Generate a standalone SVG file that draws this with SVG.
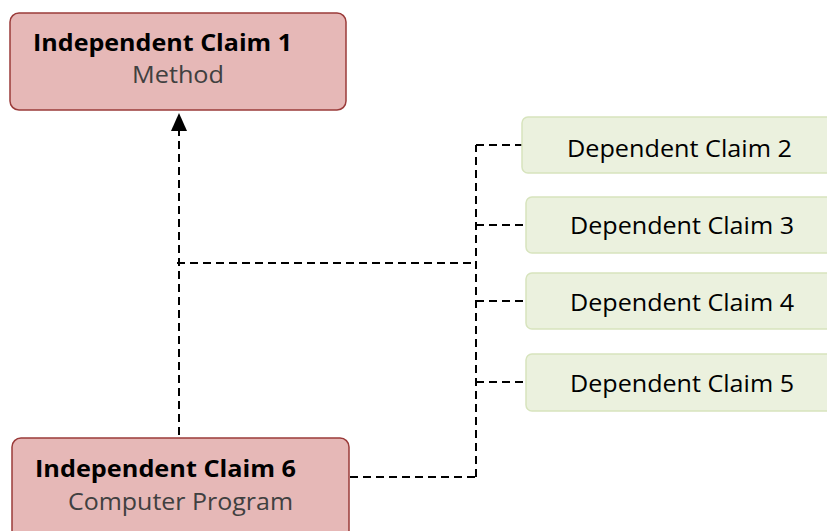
<svg xmlns="http://www.w3.org/2000/svg" width="827" height="531" viewBox="0 0 827 531">
<defs>
<style>
.ind{fill:#e6b8b7;stroke:#9b3b3a;stroke-width:1.5}
.dep{fill:#ebf1de;stroke:#d7e4bd;stroke-width:1.5}
.t1{font-family:"Open Sans","Liberation Sans",sans-serif;font-weight:bold;font-size:24px;fill:#000}
.t2{font-family:"Open Sans","Liberation Sans",sans-serif;font-size:24px;fill:#404040}
.td{font-family:"Open Sans","Liberation Sans",sans-serif;font-size:23px;fill:#000}
.c{fill:none;stroke:#000;stroke-width:2;stroke-dasharray:8 5}
</style>
</defs>
<g id="connectors">
<path class="c" d="M179,435 V128"/>
<path d="M179,113 L171,131 L187,131 z" fill="#000"/>
<path class="c" d="M177,263 H472"/>
<path class="c" d="M476,477 V145"/>
<path class="c" d="M350,477 H476"/>
<path class="c" d="M476,145 H527"/>
<path class="c" d="M476,225 H527"/>
<path class="c" d="M476,301 H527"/>
<path class="c" d="M476,382 H527"/>
</g>
<g id="claim1">
<rect class="ind" x="10" y="13" width="336" height="97" rx="9"/>
<text class="t1" x="33" y="51" textLength="259" lengthAdjust="spacingAndGlyphs">Independent Claim 1</text>
<text class="t2" x="132" y="83" textLength="92" lengthAdjust="spacingAndGlyphs">Method</text>
</g>
<g id="claim6">
<rect class="ind" x="12" y="438" width="337" height="110" rx="9"/>
<text class="t1" x="35" y="477" textLength="261" lengthAdjust="spacingAndGlyphs">Independent Claim 6</text>
<text class="t2" x="68" y="510" textLength="225" lengthAdjust="spacingAndGlyphs">Computer Program</text>
</g>
<g id="claim2">
<rect class="dep" x="522" y="117" width="320" height="56" rx="6"/>
<text class="td" x="567" y="157" textLength="225" lengthAdjust="spacingAndGlyphs">Dependent Claim 2</text>
</g>
<g id="claim3">
<rect class="dep" x="526" y="197" width="320" height="56" rx="6"/>
<text class="td" x="570" y="234" textLength="224" lengthAdjust="spacingAndGlyphs">Dependent Claim 3</text>
</g>
<g id="claim4">
<rect class="dep" x="526" y="273" width="320" height="56" rx="6"/>
<text class="td" x="570" y="311" textLength="224" lengthAdjust="spacingAndGlyphs">Dependent Claim 4</text>
</g>
<g id="claim5">
<rect class="dep" x="526" y="354" width="320" height="57" rx="6"/>
<text class="td" x="570" y="392" textLength="224" lengthAdjust="spacingAndGlyphs">Dependent Claim 5</text>
</g>
</svg>
